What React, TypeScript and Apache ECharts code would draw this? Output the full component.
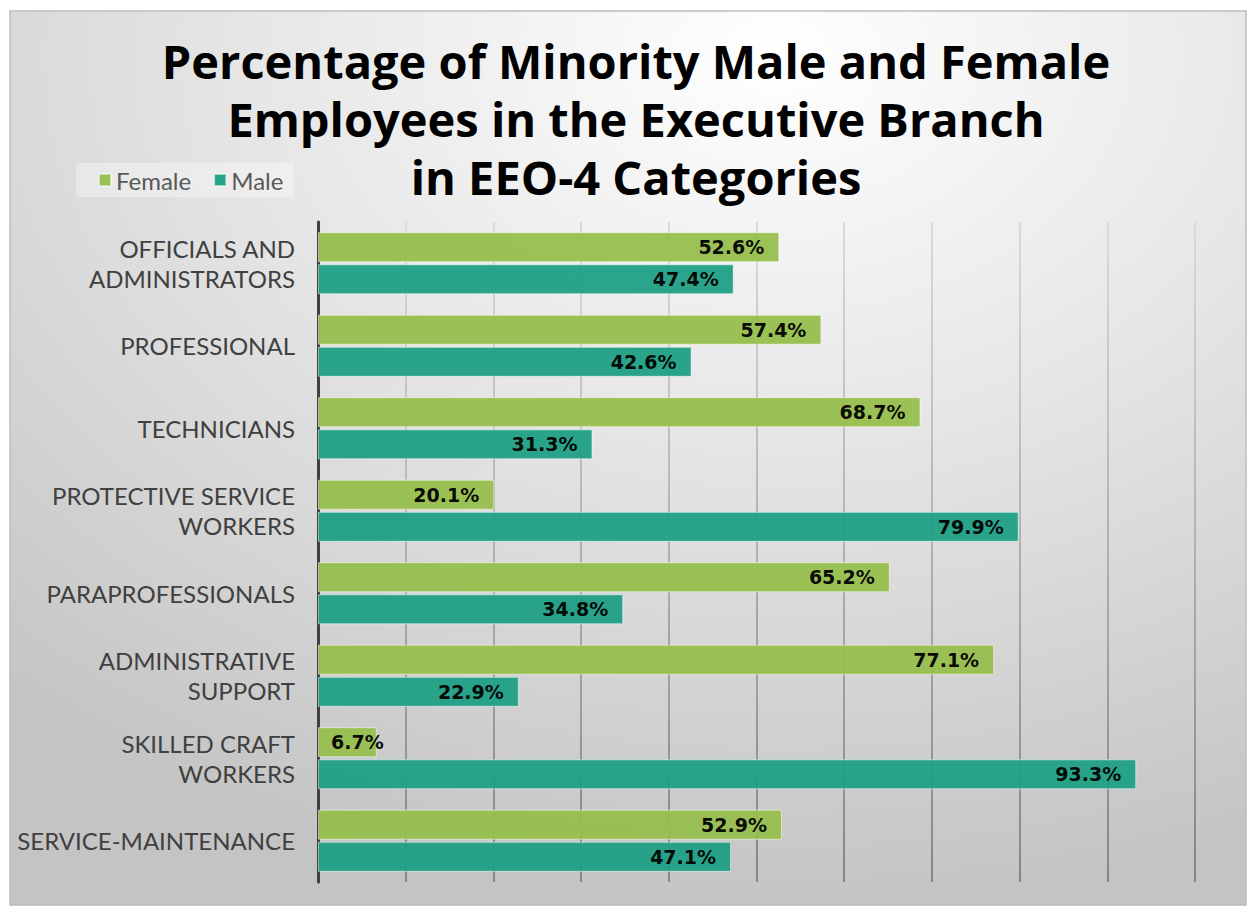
import React, { useEffect, useRef } from "react";
import * as echarts from "echarts";

const categories = [
  "OFFICIALS AND\nADMINISTRATORS",
  "PROFESSIONAL",
  "TECHNICIANS",
  "PROTECTIVE SERVICE\nWORKERS",
  "PARAPROFESSIONALS",
  "ADMINISTRATIVE\nSUPPORT",
  "SKILLED CRAFT\nWORKERS",
  "SERVICE-MAINTENANCE",
];
const femaleValues = [52.6, 57.4, 68.7, 20.1, 65.2, 77.1, 6.7, 52.9];
const maleValues = [47.4, 42.6, 31.3, 79.9, 34.8, 22.9, 93.3, 47.1];
const seriesNames = ["Female", "Male"];
const titleText =
  "Percentage of Minority Male and Female\nEmployees in the Executive Branch\nin EEO-4 Categories";

const TITLE_FONT = "'Open Sans', Lato, sans-serif";
const LIGHT_FONT = "Lato, 'Open Sans', sans-serif";
const LABEL_FONT = "'DejaVu Sans', 'Open Sans', sans-serif";

function buildData(values: number[]) {
  return values.map((v) =>
    v < 10
      ? { value: v, label: { position: "insideLeft", distance: 13 } }
      : { value: v }
  );
}

export default function App() {
  const ref = useRef<HTMLDivElement>(null);
  useEffect(() => {
    if (!ref.current) return;
    const chart = echarts.init(ref.current, undefined, { renderer: "svg" });
    const labelStyle = {
      show: true,
      position: "insideRight",
      distance: 15,
      formatter: (p: any) => `${p.value.toFixed(1)}%`,
      color: "#000",
      fontFamily: LABEL_FONT,
      fontWeight: "bold",
      fontSize: 19,
    };
    chart.setOption({
      animation: false,
      backgroundColor: "#ffffff",
      graphic: [
        {
          type: "rect",
          z: -100,
          shape: { x: 10, y: 11, width: 1236, height: 894 },
          style: {
            fill: new echarts.graphic.RadialGradient(0.62, 0.05, 0.95, [
              { offset: 0, color: "#ffffff" },
              { offset: 0.45, color: "#e6e6e6" },
              { offset: 1, color: "#c4c4c4" },
            ]),
            stroke: "#bdbdbd",
            lineWidth: 1.5,
          },
        },
      ],
      title: {
        text: titleText,
        left: 631,
        top: 27,
        textAlign: "center",
        textStyle: {
          fontFamily: TITLE_FONT,
          fontWeight: "bold",
          fontSize: 47,
          lineHeight: 58,
          color: "#000",
        },
      },
      legend: {
        data: seriesNames,
        left: 76,
        top: 163,
        padding: [5, 10, 5, 22],
        backgroundColor: "rgba(255,255,255,0.35)",
        itemWidth: 12,
        itemHeight: 12,
        itemGap: 22,
        icon: "rect",
        textStyle: { fontFamily: LIGHT_FONT, fontSize: 24, color: "#595959" },
      },
      grid: { left: 318, right: 53, top: 222, bottom: 25, containLabel: false },
      xAxis: {
        type: "value",
        min: 0,
        max: 100,
        interval: 10,
        axisLabel: { show: false },
        axisLine: { show: false },
        axisTick: { show: false },
        splitLine: {
          show: true,
          lineStyle: {
            width: 2,
            color: new echarts.graphic.LinearGradient(
              0,
              222,
              0,
              882,
              [
                { offset: 0, color: "#dadada" },
                { offset: 1, color: "#858585" },
              ],
              true
            ),
          },
        },
      },
      yAxis: {
        type: "category",
        data: categories,
        inverse: true,
        axisLine: { show: true, lineStyle: { color: "#404040", width: 3 } },
        axisTick: { show: false },
        axisLabel: {
          fontFamily: LIGHT_FONT,
          fontSize: 24,
          lineHeight: 30,
          color: "#404040",
          margin: 23,
          align: "right",
        },
      },
      series: [
        {
          name: seriesNames[0],
          type: "bar",
          data: buildData(femaleValues),
          barWidth: 30,
          barGap: "7%",
          itemStyle: {
            color: "#97be4d",
            opacity: 0.95,
            borderColor: "rgba(255,255,255,0.55)",
            borderWidth: 1,
          },
          label: labelStyle,
        },
        {
          name: seriesNames[1],
          type: "bar",
          data: buildData(maleValues),
          barWidth: 30,
          barGap: "7%",
          itemStyle: {
            color: "#1f9f84",
            opacity: 0.95,
            borderColor: "rgba(255,255,255,0.55)",
            borderWidth: 1,
          },
          label: labelStyle,
        },
      ],
    });
    return () => chart.dispose();
  }, []);
  return (
    <div
      ref={ref}
      style={{ position: "fixed", left: 0, top: 0, width: 1248, height: 907 }}
    />
  );
}
